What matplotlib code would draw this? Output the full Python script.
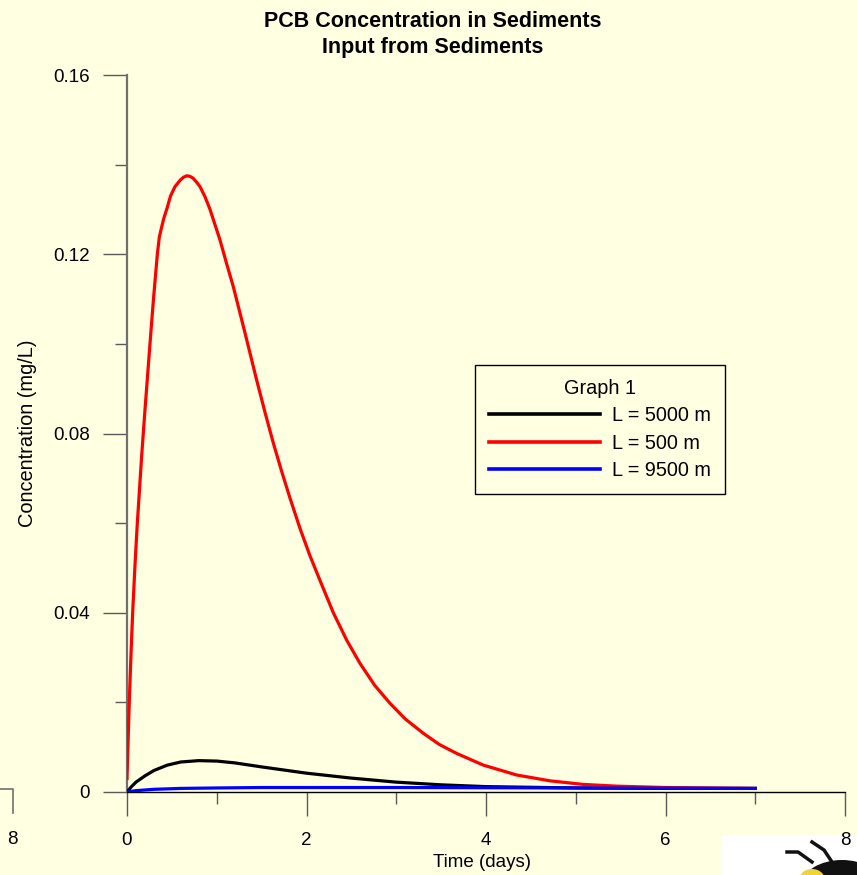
import matplotlib
matplotlib.use("Agg")
import matplotlib.pyplot as plt
from matplotlib.lines import Line2D
from matplotlib.patches import Rectangle, Ellipse
from matplotlib.ticker import MultipleLocator

# values
time_red = [0, 0.01, 0.026, 0.045, 0.063, 0.09, 0.115, 0.164, 0.2, 0.256,
            0.295, 0.338, 0.36, 0.384, 0.41, 0.442, 0.485, 0.535, 0.596, 0.63,
            0.665, 0.70, 0.735, 0.775, 0.813, 0.87, 0.925, 1.036, 1.11, 1.184,
            1.26, 1.334, 1.445, 1.538, 1.63, 1.724, 1.816, 1.928, 2.039, 2.169,
            2.299, 2.45, 2.596, 2.76, 2.93, 3.10, 3.302, 3.48, 3.674, 3.97,
            4.156, 4.34, 4.71, 5.08, 5.46, 6.0, 6.5, 7.0]
conc_red = [0.003, 0.010, 0.0205, 0.031, 0.040, 0.051, 0.060, 0.0752, 0.0852, 0.100,
            0.110, 0.120, 0.1238, 0.1259, 0.1280, 0.130, 0.1330, 0.1351, 0.1366, 0.1372,
            0.1375, 0.1374, 0.1370, 0.1361, 0.1351, 0.1328, 0.1300, 0.1232, 0.1179, 0.1128,
            0.1068, 0.1009, 0.0919, 0.0847, 0.0779, 0.0715, 0.0656, 0.0588, 0.0527, 0.0463,
            0.0400, 0.0338, 0.0287, 0.0238, 0.0198, 0.0163, 0.0131, 0.0106, 0.0086, 0.0060,
            0.0049, 0.0038, 0.0025, 0.0017, 0.0013, 0.0010, 0.0009, 0.0008]

time_black = [0, 0.05, 0.1, 0.2, 0.3, 0.45, 0.6, 0.8, 1.0, 1.2, 1.5,
              2.0, 2.5, 3.0, 3.5, 4.0, 5.0, 6.0, 7.0]
conc_black = [0, 0.0012, 0.0022, 0.0036, 0.0048, 0.0060, 0.0067, 0.0070, 0.0069,
              0.0065, 0.0056, 0.0042, 0.0031, 0.0022, 0.0016, 0.0012, 0.0009,
              0.0008, 0.0008]

time_blue = [0, 0.1, 0.3, 0.6, 1.0, 1.5, 2.0, 3.0, 4.0, 5.0, 6.0, 7.0]
conc_blue = [0, 0.0003, 0.0006, 0.0008, 0.0009, 0.0010, 0.0010, 0.0010,
             0.00095, 0.0009, 0.00085, 0.0008]

series_labels = ["L = 5000 m", "L = 500 m", "L = 9500 m"]
y_ticks = [0, 0.04, 0.08, 0.12, 0.16]
y_tick_labels = ["0", "0.04", "0.08", "0.12", "0.16"]
x_ticks = [0, 2, 4, 6, 8]

BG = "#ffffe2"
TICK = "#5a5a5a"
W, H = 857, 875

plt.rcParams["font.family"] = ["Liberation Sans", "DejaVu Sans"]

fig = plt.figure(figsize=(W / 100, H / 100), dpi=100)
fig.patch.set_facecolor(BG)

ax = fig.add_axes([127 / W, 1 - 792 / H, (845 - 127) / W, (792 - 75) / H])
ax.set_facecolor(BG)

ax.plot(time_black, conc_black, color="black", lw=2.3, label=series_labels[0],
        solid_joinstyle="round", zorder=3)
ax.plot(time_red, conc_red, color="#ff0000", lw=2.3, label=series_labels[1],
        solid_joinstyle="round", zorder=3)
ax.plot(time_blue, conc_blue, color="#0000ff", lw=2.3, label=series_labels[2],
        solid_joinstyle="round", zorder=4)

ax.set_xlim(0, 8)
ax.set_ylim(0, 0.16)
ax.set_xticks(x_ticks)
ax.set_xticklabels([str(t) for t in x_ticks])
ax.set_yticks(y_ticks)
ax.set_yticklabels(y_tick_labels)
ax.xaxis.set_minor_locator(MultipleLocator(1))
ax.yaxis.set_minor_locator(MultipleLocator(0.02))

for side in ["top", "right"]:
    ax.spines[side].set_visible(False)
ax.spines["left"].set_color("#707070")
ax.spines["left"].set_linewidth(1.6)
ax.spines["bottom"].set_color("black")
ax.spines["bottom"].set_linewidth(1.0)

ax.tick_params(which="major", direction="out", length=17.3, width=1.0,
               color=TICK, pad=9.5, labelsize=13.5)
ax.tick_params(axis="x", which="major", pad=11.5)
ax.tick_params(which="minor", direction="out", length=8.6, width=1.0,
               color=TICK)

ax.set_xlabel("Time (days)", fontsize=13.5)
ax.set_ylabel("Concentration (mg/L)", fontsize=14.4)
ax.yaxis.set_label_coords(-(127 - 37) / 718, 0.5)
ax.xaxis.set_label_coords((482 - 127) / 718, -(854 - 792) / 717)

fig.suptitle("PCB Concentration in Sediments\nInput from Sediments",
             x=433 / W, y=1 - 11 / H, va="top", fontsize=15.5,
             fontweight="bold", linespacing=1.3)

leg = ax.legend(title="Graph 1", loc="upper left",
                bbox_to_anchor=((475 - 127) / 718, (792 - 365) / 717),
                fontsize=14.3, title_fontsize=14.3, frameon=True,
                fancybox=False, framealpha=1, facecolor=BG, edgecolor="black",
                handlelength=5.6, handletextpad=0.6, labelspacing=0.42,
                borderpad=0.7, borderaxespad=0)
leg.get_frame().set_linewidth(1.0)
for line in leg.get_lines():
    line.set_linewidth(2.6)

# fragment of a neighbouring panel's axis at the far left
fig.add_artist(Line2D([0, 12.5 / W, 12.5 / W], [1 - 789 / H, 1 - 789 / H, 1 - 813 / H],
                      color="#707070", lw=1.2, transform=fig.transFigure))
fig.text(12 / W, 1 - 839 / H, "8", fontsize=13.5, ha="center", va="center")

# small mascot picture cropped at the lower right corner
fig.add_artist(Rectangle((721 / W, 0), (W - 721) / W, (875 - 836) / H,
                         transform=fig.transFigure, facecolor="white",
                         edgecolor="none", zorder=-1))
fig.add_artist(Ellipse((842 / W, 1 - 885 / H), 80 / W, 50 / H,
                       transform=fig.transFigure, facecolor="#111111",
                       edgecolor="none", zorder=-1))
fig.add_artist(Ellipse((812 / W, 1 - 880 / H), 26 / W, 22 / H,
                       transform=fig.transFigure, facecolor="#f2d23a",
                       edgecolor="none", zorder=-1))
fig.add_artist(Line2D([787 / W, 798 / W, 812 / W], [1 - 852 / H, 1 - 852 / H, 1 - 862 / H],
                      color="#111111", lw=2.5, transform=fig.transFigure, zorder=-1))
fig.add_artist(Line2D([812 / W, 824 / W, 834 / W], [1 - 842 / H, 1 - 850 / H, 1 - 865 / H],
                      color="#111111", lw=2.5, transform=fig.transFigure, zorder=-1))

fig.savefig("out.png", dpi=100, facecolor=BG)
